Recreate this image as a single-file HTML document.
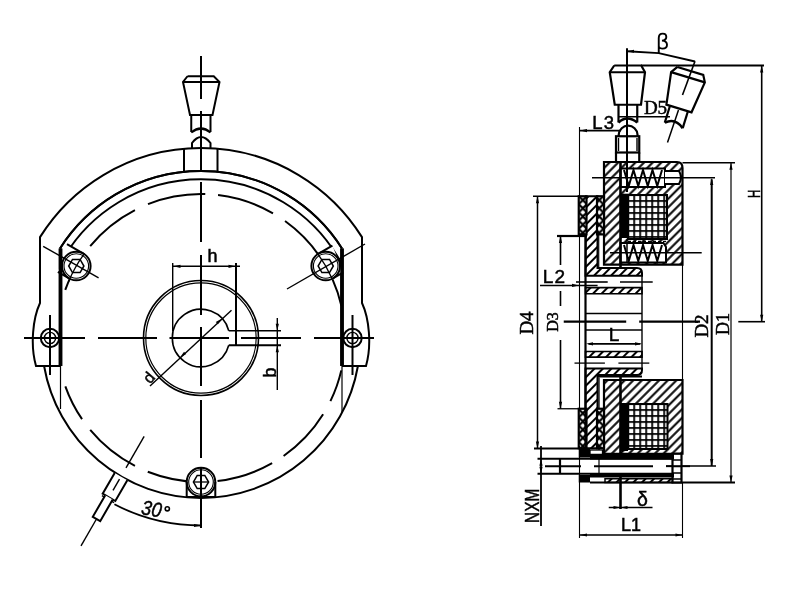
<!DOCTYPE html>
<html><head><meta charset="utf-8"><style>
html,body{margin:0;padding:0;background:#fff;width:800px;height:600px;overflow:hidden}
svg{display:block}
text{font-family:"Liberation Sans",sans-serif}
</style></head><body>
<svg style="will-change:transform" width="800" height="600" viewBox="0 0 800 600" fill="none" stroke="#000" stroke-linecap="butt">
<defs><pattern id="hatch" patternUnits="userSpaceOnUse" width="6.1" height="6.1" patternTransform="rotate(45)"><line x1="3.05" y1="0" x2="3.05" y2="6.1" stroke="#000" stroke-width="2.0"/></pattern><pattern id="hatch2" patternUnits="userSpaceOnUse" width="6.0" height="6.0" patternTransform="rotate(45)"><line x1="3" y1="0" x2="3" y2="6" stroke="#000" stroke-width="2.0"/></pattern><pattern id="grid" patternUnits="userSpaceOnUse" x="627.3" y="194.1" width="6" height="6"><path d="M0.9,0 V6 M0,0.9 H6" stroke="#000" stroke-width="1.8" fill="none"/></pattern><pattern id="grid2" patternUnits="userSpaceOnUse" x="627.3" y="403.1" width="6" height="6"><path d="M0.9,0 V6 M0,0.9 H6" stroke="#000" stroke-width="1.8" fill="none"/></pattern><pattern id="xh" patternUnits="userSpaceOnUse" x="578.75" y="196" width="8.2" height="8.2"><path d="M-1,-1 L9.2,9.2 M9.2,-1 L-1,9.2" stroke="#000" stroke-width="2.2" fill="none"/></pattern></defs>
<path d="M40.00,237.11 A190,190 0 0 1 362.00,237.11" stroke-width="2.0" />
<path d="M60.00,248.51 A167,167 0 0 1 342.00,248.51" stroke-width="2.0" />
<path d="M60.00,264.47 A159.3,159.3 0 0 1 342.00,264.47" stroke-width="2.0" />
<path d="M44.07,366.00 A159.3,159.3 0 0 0 357.93,366.00" stroke-width="2.0" />
<path d="M341.31,305.61 A144,144 0 0 0 332.55,279.43" stroke-width="2.0" />
<path d="M324.43,263.83 A144,144 0 0 0 285.03,221.06" stroke-width="2.0" />
<path d="M273.00,213.29 A144,144 0 0 0 218.05,195.01" stroke-width="2.0" />
<path d="M205.27,194.06 A144,144 0 0 0 147.99,204.11" stroke-width="2.0" />
<path d="M134.95,210.04 A144,144 0 0 0 90.21,246.02" stroke-width="2.0" />
<path d="M78.88,261.69 A144,144 0 0 0 65.26,289.93" stroke-width="2.0" />
<path d="M65.34,386.31 A144,144 0 0 0 82.04,419.15" stroke-width="2.0" />
<path d="M90.21,429.98 A144,144 0 0 0 134.95,465.96" stroke-width="2.0" />
<path d="M147.76,471.80 A144,144 0 0 0 205.27,481.94" stroke-width="2.0" />
<path d="M217.55,481.05 A144,144 0 0 0 272.13,463.21" stroke-width="2.0" />
<path d="M283.60,455.96 A144,144 0 0 0 323.12,414.31" stroke-width="2.0" />
<path d="M330.43,401.13 A144,144 0 0 0 341.31,370.39" stroke-width="2.0" />
<line x1="184.00" y1="148.76" x2="184.00" y2="171.87" stroke-width="2.0" />
<line x1="217.50" y1="148.72" x2="217.50" y2="171.82" stroke-width="2.0" />
<path d="M40,236.6 V303 C33,318 30,345 36,366 H60" stroke-width="2.0"/>
<line x1="60.50" y1="248.50" x2="60.50" y2="366.00" stroke-width="3.5" />
<line x1="60.50" y1="366.00" x2="60.50" y2="409.00" stroke-width="1.2" />
<path d="M362,236.6 V303 C369,318 372,345 366,366 H342" stroke-width="2.0"/>
<line x1="342.00" y1="248.50" x2="342.00" y2="366.00" stroke-width="3.5" />
<line x1="342.00" y1="366.00" x2="342.00" y2="412.00" stroke-width="1.2" />
<circle cx="50.00" cy="338.00" r="9.2" stroke-width="2.0" fill="none"/>
<circle cx="50.00" cy="338.00" r="5.6" stroke-width="1.4" fill="none"/>
<line x1="50.00" y1="315.00" x2="50.00" y2="375.00" stroke-width="2.0" />
<circle cx="352.50" cy="338.00" r="9.2" stroke-width="2.0" fill="none"/>
<circle cx="352.50" cy="338.00" r="5.6" stroke-width="1.4" fill="none"/>
<line x1="352.50" y1="315.00" x2="352.50" y2="375.00" stroke-width="2.0" />
<path d="M343.25,272.38 L332.86,278.38 L318.56,253.62 L332.41,245.62 Z" stroke-width="0" fill="#fff" stroke="none"/>
<circle cx="325.71" cy="266.00" r="14.3" stroke-width="0" fill="#fff"/>
<circle cx="325.71" cy="266.00" r="14.3" stroke-width="2.0" fill="none"/>
<circle cx="325.71" cy="266.00" r="12.3" stroke-width="1.1" fill="none"/>
<path d="M333.31,266.00 L329.51,272.58 L321.91,272.58 L318.11,266.00 L321.91,259.42 L329.51,259.42 Z" stroke-width="1.5" fill="none" />
<line x1="332.86" y1="278.38" x2="343.25" y2="272.38" stroke-width="2.0" />
<line x1="318.56" y1="253.62" x2="332.41" y2="245.62" stroke-width="2.0" />
<path d="M332.55,279.43 A144,144 0 0 0 316.00,251.34" stroke-width="1.3" />
<path d="M66.99,244.12 L83.44,253.62 L69.14,278.38 L57.88,271.88 Z" stroke-width="0" fill="#fff" stroke="none"/>
<circle cx="76.29" cy="266.00" r="14.3" stroke-width="0" fill="#fff"/>
<circle cx="76.29" cy="266.00" r="14.3" stroke-width="2.0" fill="none"/>
<circle cx="76.29" cy="266.00" r="12.3" stroke-width="1.1" fill="none"/>
<path d="M83.89,266.00 L80.09,272.58 L72.49,272.58 L68.69,266.00 L72.49,259.42 L80.09,259.42 Z" stroke-width="1.5" fill="none" />
<line x1="83.44" y1="253.62" x2="66.99" y2="244.12" stroke-width="2.0" />
<line x1="69.14" y1="278.38" x2="57.88" y2="271.88" stroke-width="2.0" />
<path d="M84.50,253.36 A144,144 0 0 0 68.45,281.73" stroke-width="1.3" />
<path d="M186.70,497.00 L186.70,482.00 L215.30,482.00 L215.30,497.00 Z" stroke-width="0" fill="#fff" stroke="none"/>
<circle cx="201.00" cy="482.00" r="14.3" stroke-width="0" fill="#fff"/>
<circle cx="201.00" cy="482.00" r="14.3" stroke-width="2.0" fill="none"/>
<circle cx="201.00" cy="482.00" r="12.3" stroke-width="1.1" fill="none"/>
<path d="M208.60,482.00 L204.80,488.58 L197.20,488.58 L193.40,482.00 L197.20,475.42 L204.80,475.42 Z" stroke-width="1.5" fill="none" />
<line x1="193.40" y1="482.00" x2="208.60" y2="482.00" stroke-width="1.3" />
<line x1="186.70" y1="482.00" x2="186.70" y2="497.00" stroke-width="2.0" />
<line x1="215.30" y1="482.00" x2="215.30" y2="497.00" stroke-width="2.0" />
<line x1="186.70" y1="497.00" x2="215.30" y2="497.00" stroke-width="2.0" />
<path d="M60.00,248.51 A167,167 0 0 1 342.00,248.51" stroke-width="2.0" />
<line x1="60.50" y1="248.50" x2="60.50" y2="366.00" stroke-width="3.5" />
<line x1="342.00" y1="248.50" x2="342.00" y2="366.00" stroke-width="3.5" />
<line x1="287.00" y1="289.00" x2="365.00" y2="244.00" stroke-width="1.4" />
<line x1="98.60" y1="277.80" x2="43.20" y2="246.30" stroke-width="1.4" />
<circle cx="201.00" cy="338.00" r="57.5" stroke-width="1.6" fill="none"/>
<circle cx="201.00" cy="338.00" r="55.2" stroke-width="1.2" fill="none"/>
<path d="M228.77,330.75 A28.7,28.7 0 1 0 228.76,345.3" stroke-width="1.6"/>
<line x1="228.77" y1="330.75" x2="281.00" y2="330.75" stroke-width="1.4" />
<line x1="228.76" y1="345.30" x2="281.00" y2="345.30" stroke-width="2.0" />
<line x1="172.70" y1="263.00" x2="172.70" y2="331.00" stroke-width="1.4" />
<line x1="236.00" y1="263.00" x2="236.00" y2="345.30" stroke-width="2.0" />
<line x1="172.70" y1="266.30" x2="240.00" y2="266.30" stroke-width="1.4" />
<path d="M173.50,266.30 L180.50,264.70 L180.50,267.90 Z" fill="#000" stroke="none"/>
<path d="M235.50,266.30 L228.50,267.90 L228.50,264.70 Z" fill="#000" stroke="none"/>
<text x="212.5" y="262" font-size="18" text-anchor="middle" stroke="#000" stroke-width="0.5" fill="#000" >h</text>
<line x1="277.30" y1="318.00" x2="277.30" y2="390.00" stroke-width="1.4" />
<path d="M277.30,330.75 L275.70,323.75 L278.90,323.75 Z" fill="#000" stroke="none"/>
<path d="M277.30,345.30 L278.90,352.30 L275.70,352.30 Z" fill="#000" stroke="none"/>
<line x1="262.00" y1="376.50" x2="277.30" y2="376.50" stroke-width="0" />
<text x="0" y="0" font-size="18" text-anchor="middle" stroke="#000" stroke-width="0.5" fill="#000" transform="translate(275.5 372.5) rotate(-90)" >b</text>
<line x1="150.00" y1="386.00" x2="231.50" y2="310.20" stroke-width="1.4" />
<path d="M180.01,357.57 L184.04,351.63 L186.22,353.97 Z" fill="#000" stroke="none"/>
<path d="M221.99,318.43 L217.96,324.37 L215.78,322.03 Z" fill="#000" stroke="none"/>
<text x="0" y="0" font-size="16" text-anchor="middle" stroke="#000" stroke-width="0.5" fill="#000" transform="translate(153 381) rotate(-50)" >d</text>
<line x1="24.00" y1="338.00" x2="85.00" y2="338.00" stroke-width="2.0" />
<line x1="98.00" y1="338.00" x2="157.00" y2="338.00" stroke-width="2.0" />
<line x1="169.50" y1="338.00" x2="229.00" y2="338.00" stroke-width="2.0" />
<line x1="241.00" y1="338.00" x2="301.00" y2="338.00" stroke-width="2.0" />
<line x1="314.00" y1="338.00" x2="374.00" y2="338.00" stroke-width="2.0" />
<line x1="201.00" y1="56.00" x2="201.00" y2="99.00" stroke-width="2.0" />
<line x1="201.00" y1="111.00" x2="201.00" y2="170.00" stroke-width="2.0" />
<line x1="201.00" y1="182.00" x2="201.00" y2="242.00" stroke-width="2.0" />
<line x1="201.00" y1="255.00" x2="201.00" y2="315.00" stroke-width="2.0" />
<line x1="201.00" y1="327.00" x2="201.00" y2="386.00" stroke-width="2.0" />
<line x1="201.00" y1="400.00" x2="201.00" y2="458.00" stroke-width="2.0" />
<line x1="201.00" y1="468.00" x2="201.00" y2="528.00" stroke-width="2.0" />
<path d="M187.50,76.25 L213.75,76.25 L219.50,82.00 L212.50,115.00 L190.00,115.00 L183.00,82.00 L187.50,76.25" stroke-width="2.0" fill="none" />
<line x1="183.00" y1="82.00" x2="219.50" y2="82.00" stroke-width="2.0" />
<line x1="191.25" y1="115.00" x2="191.25" y2="132.00" stroke-width="2.0" />
<line x1="210.50" y1="115.00" x2="210.50" y2="132.00" stroke-width="2.0" />
<path d="M191.25,132.5 Q201,124.5 210.5,132.5" stroke-width="2.2"/>
<path d="M192,148 L192,143 Q201,131 210.5,143 L210.5,148" stroke-width="2.0"/>
<path d="M114.42,504.31 A187.5,187.5 0 0 0 201.00,525.50" stroke-width="1.8" />
<path d="M201.00,525.50 L194.00,527.10 L194.00,523.90 Z" fill="#000" stroke="none"/>
<text x="0" y="7.3" font-size="20.5" text-anchor="middle" stroke="#000" stroke-width="0.5" fill="#000" font-style="italic" transform="translate(151.7 508.6) rotate(10) scale(0.88 1)">30</text>
<circle cx="167.30" cy="508.80" r="2.1" stroke-width="1.6" fill="none"/>
<path d="M127.32,480.21 L115.32,501.00 L102.68,493.70 L114.68,472.91" stroke-width="2.0" fill="#fff" />
<line x1="114.06" y1="502.58" x2="101.94" y2="495.58" stroke-width="1.4" />
<path d="M112.72,499.50 L100.22,521.15 L92.78,516.85 L105.28,495.20" stroke-width="2.0" fill="#fff" />
<line x1="144.15" y1="436.47" x2="126.00" y2="467.90" stroke-width="1.4" />
<line x1="119.50" y1="479.16" x2="113.00" y2="490.42" stroke-width="1.4" />
<line x1="96.50" y1="519.00" x2="81.00" y2="545.85" stroke-width="1.4" />
<path d="M604,162 H677 Q682.5,162 682.5,168 V264.6 H604 Z" fill="url(#hatch)" stroke-width="2.2"/>
<rect x="620.5" y="168.5" width="44.50" height="18.50" stroke="none" fill="#fff"/>
<rect x="620.5" y="168.5" width="44.50" height="18.50" stroke-width="2" fill="none"/>
<path d="M665,171 H679 Q683,177.5 679,184 H665" fill="#fff" stroke-width="2"/>
<path d="M620.5,243 H663.5 L666,247 V262.5 H620.5 Z" fill="#fff" stroke-width="2"/>
<line x1="628.00" y1="241.30" x2="667.00" y2="241.30" stroke-width="1.3" stroke-dasharray="3 2"/>
<path d="M624.00,170.00 L628.75,186.00 L633.50,170.00 L638.25,186.00 L643.00,170.00 L647.75,186.00 L652.50,170.00 L657.25,186.00 L662.00,170.00" stroke-width="2" fill="none" />
<path d="M624.00,245.00 L628.75,261.00 L633.50,245.00 L638.25,261.00 L643.00,245.00 L647.75,261.00 L652.50,245.00 L657.25,261.00 L662.00,245.00" stroke-width="2" fill="none" />
<rect x="628" y="195" width="39.00" height="44.00" stroke="none" fill="#fff"/>
<rect x="628" y="195" width="39" height="44" fill="url(#grid)" stroke="#000" stroke-width="2"/>
<rect x="620.5" y="193.7" width="7.50" height="44.30" stroke="none" fill="#000"/>
<line x1="620.50" y1="162.00" x2="620.50" y2="267.00" stroke-width="2.6" />
<line x1="627.00" y1="239.00" x2="627.00" y2="263.00" stroke-width="1.5" />
<path d="M604,380 H682.5 V453.75 H604 Z" fill="url(#hatch)" stroke-width="2.2"/>
<line x1="598.00" y1="376.50" x2="642.00" y2="376.50" stroke-width="2" />
<rect x="628" y="404" width="39.50" height="45.00" stroke="none" fill="#fff"/>
<rect x="628" y="404" width="39.5" height="45" fill="url(#grid2)" stroke="#000" stroke-width="2"/>
<rect x="620.5" y="403" width="7.50" height="48.00" stroke="none" fill="#000"/>
<line x1="620.50" y1="376.50" x2="620.50" y2="459.00" stroke-width="2.6" />
<line x1="620.50" y1="474.00" x2="620.50" y2="509.00" stroke-width="2.6" />
<line x1="599.00" y1="377.50" x2="599.00" y2="453.00" stroke-width="1.3" />
<path d="M586,196.25 H597.5 V268 H637 Q642,268 642,273 V275.8 H585.5 Z" fill="url(#hatch2)" stroke-width="2"/>
<path d="M585.5,448.25 H597.5 V375.1 H637 Q642,375.1 642,370 V368.4 H585.5 Z" fill="url(#hatch2)" stroke-width="2"/>
<rect x="578.75" y="196.25" width="7.75" height="38.15" fill="#fff" stroke="none"/>
<rect x="578.75" y="196.25" width="7.75" height="38.15" fill="url(#xh)" stroke="#000" stroke-width="2.2"/>
<rect x="578.75" y="408.75" width="7.75" height="39.5" fill="#fff" stroke="none"/>
<rect x="578.75" y="408.75" width="7.75" height="39.5" fill="url(#xh)" stroke="#000" stroke-width="2.2"/>
<rect x="597" y="196.25" width="7.00" height="38.15" fill="#fff" stroke="none"/>
<rect x="597" y="196.25" width="7.00" height="38.15" fill="url(#xh)" stroke="#000" stroke-width="2.2"/>
<rect x="597" y="408.75" width="7.00" height="39.5" fill="#fff" stroke="none"/>
<rect x="597" y="408.75" width="7.00" height="39.5" fill="url(#xh)" stroke="#000" stroke-width="2.2"/>
<path d="M585.5,287.6 H642 V293.8 H585.5 Z" fill="url(#hatch2)" stroke-width="1.6"/>
<path d="M585.5,351.5 H642 V357.1 H585.5 Z" fill="url(#hatch2)" stroke-width="1.6"/>
<line x1="642.00" y1="273.00" x2="642.00" y2="370.00" stroke-width="1.4" />
<line x1="585.50" y1="234.00" x2="585.50" y2="448.75" stroke-width="2.2" />
<line x1="579.50" y1="127.00" x2="579.50" y2="196.00" stroke-width="1.1" />
<line x1="579.50" y1="234.00" x2="579.50" y2="409.00" stroke-width="1.1" />
<line x1="579.50" y1="446.00" x2="579.50" y2="538.00" stroke-width="1.1" />
<line x1="598.75" y1="234.00" x2="598.75" y2="268.00" stroke-width="1.1" />
<line x1="585.50" y1="313.50" x2="642.00" y2="313.50" stroke-width="1.3" />
<line x1="585.50" y1="329.90" x2="642.00" y2="329.90" stroke-width="1.5" />
<line x1="576.00" y1="282.00" x2="607.70" y2="282.00" stroke-width="1.6" />
<line x1="620.00" y1="282.00" x2="652.70" y2="282.00" stroke-width="1.6" />
<line x1="574.50" y1="363.10" x2="604.90" y2="363.10" stroke-width="1.3" />
<line x1="618.40" y1="363.10" x2="649.30" y2="363.10" stroke-width="1.3" />
<line x1="563.75" y1="321.70" x2="626.20" y2="321.70" stroke-width="2.2" />
<line x1="639.20" y1="321.70" x2="700.00" y2="321.70" stroke-width="2.2" />
<line x1="588.60" y1="343.85" x2="640.30" y2="343.85" stroke-width="1.6" />
<path d="M586.00,343.85 L593.00,342.25 L593.00,345.45 Z" fill="#000" stroke="none"/>
<path d="M642.00,343.85 L635.00,345.45 L635.00,342.25 Z" fill="#000" stroke="none"/>
<text x="614" y="341" font-size="19" text-anchor="middle" stroke="#000" stroke-width="0.5" fill="#000" >L</text>
<line x1="540.00" y1="285.40" x2="597.60" y2="285.40" stroke-width="1.5" />
<path d="M579.00,285.40 L572.00,287.00 L572.00,283.80 Z" fill="#000" stroke="none"/>
<text x="554.5" y="283.3" font-size="19" text-anchor="middle" stroke="#000" stroke-width="0.5" fill="#000" letter-spacing="1.2">L2</text>
<line x1="682.50" y1="264.60" x2="682.50" y2="380.00" stroke-width="1.1" />
<line x1="682.50" y1="482.50" x2="682.50" y2="538.00" stroke-width="1.1" />
<line x1="537.50" y1="458.75" x2="672.50" y2="458.75" stroke-width="2.2" />
<line x1="537.50" y1="473.75" x2="672.50" y2="473.75" stroke-width="2.2" />
<line x1="545.00" y1="466.25" x2="581.00" y2="466.25" stroke-width="1.8" />
<line x1="594.00" y1="466.25" x2="653.00" y2="466.25" stroke-width="1.8" />
<line x1="666.00" y1="466.25" x2="690.00" y2="466.25" stroke-width="1.8" />
<line x1="560.00" y1="458.75" x2="560.00" y2="473.75" stroke-width="2.2" />
<line x1="599.00" y1="459.00" x2="599.00" y2="473.50" stroke-width="1.2" />
<rect x="578.75" y="448.75" width="11.25" height="8.75" stroke="none" fill="#000"/>
<rect x="578.75" y="475" width="11.25" height="7.50" stroke="none" fill="#000"/>
<rect x="590" y="450" width="12.5" height="5.5" fill="#fff" stroke="#000" stroke-width="1.3"/>
<path d="M605,478.75 H672.5 V482.5 H605 Z" fill="url(#hatch2)" stroke-width="1.5"/>
<line x1="590.00" y1="482.50" x2="735.00" y2="482.50" stroke-width="1.8" />
<rect x="672.5" y="453.75" width="9" height="28.75" fill="#fff" stroke="#000" stroke-width="2.2"/>
<line x1="672.50" y1="460.00" x2="681.50" y2="460.00" stroke-width="1.5" />
<line x1="672.50" y1="466.50" x2="681.50" y2="466.50" stroke-width="1.5" />
<line x1="672.50" y1="473.00" x2="681.50" y2="473.00" stroke-width="1.5" />
<line x1="672.50" y1="479.00" x2="681.50" y2="479.00" stroke-width="1.5" />
<rect x="590" y="453.75" width="84.00" height="5.75" stroke="none" fill="#000"/>
<rect x="590" y="473" width="84.00" height="4.50" stroke="none" fill="#000"/>
<rect x="616" y="136.25" width="23.25" height="16.25" stroke-width="2.2" fill="none"/>
<line x1="618.50" y1="138.00" x2="618.50" y2="151.00" stroke-width="1.4" />
<line x1="637.00" y1="138.00" x2="637.00" y2="151.00" stroke-width="1.4" />
<line x1="616.00" y1="152.50" x2="616.00" y2="162.00" stroke-width="2.2" />
<line x1="639.25" y1="152.50" x2="639.25" y2="162.00" stroke-width="2.2" />
<path d="M618.75,136.25 V134.5 A9.4,9.5 0 0 1 637.5,134.5 V136.25" stroke-width="2.2"/>
<g >
<path d="M614.25,65.50 L641.25,65.50 L645.00,72.25 L641.00,104.75 L614.75,104.75 L609.75,72.25 L614.25,65.50" stroke-width="2.2" fill="none" />
<line x1="609.75" y1="72.25" x2="645.00" y2="72.25" stroke-width="2.2" />
<line x1="618.50" y1="104.75" x2="618.50" y2="122.50" stroke-width="2.2" />
<line x1="637.25" y1="104.75" x2="637.25" y2="122.50" stroke-width="2.2" />
<path d="M618.5,122.5 Q627,114.5 637.25,122.5" stroke-width="2.6"/>
</g>
<g transform="rotate(17 641 277.5)">
<path d="M614.25,65.50 L641.25,65.50 L645.00,72.25 L641.00,104.75 L614.75,104.75 L609.75,72.25 L614.25,65.50" stroke-width="2.2" fill="none" />
<line x1="609.75" y1="72.25" x2="645.00" y2="72.25" stroke-width="2.2" />
<line x1="618.50" y1="104.75" x2="618.50" y2="122.50" stroke-width="2.2" />
<line x1="637.25" y1="104.75" x2="637.25" y2="122.50" stroke-width="2.2" />
<path d="M618.5,122.5 Q627,114.5 637.25,122.5" stroke-width="2.6"/>
</g>
<line x1="627.00" y1="48.25" x2="627.00" y2="192.00" stroke-width="2" />
<line x1="695.00" y1="61.25" x2="682.50" y2="95.00" stroke-width="1.6" />
<line x1="678.50" y1="110.00" x2="667.50" y2="142.50" stroke-width="1.5" />
<line x1="641.00" y1="65.50" x2="764.00" y2="65.50" stroke-width="2" />
<path d="M627.00,51.25 L658.75,53.20 L695.00,61.50" stroke-width="1.8" fill="none" />
<path d="M627.00,51.25 L634.00,49.65 L634.00,52.85 Z" fill="#000" stroke="none"/>
<path d="M658.75,53 V38 Q658.75,33.6 662.8,33.6 Q666.3,33.6 666.3,37 Q666.3,40.3 662,40.6 Q667,40.9 667,44.8 Q667,48.6 662.6,48.6 Q659.6,48.6 658.75,46.5" stroke-width="1.9"/>
<line x1="618.50" y1="116.80" x2="670.00" y2="116.80" stroke-width="1.6" />
<text x="655.5" y="114" font-size="19" text-anchor="middle" stroke="#000" stroke-width="0.5" fill="#000" font-family="Liberation Serif" style="font-family:Liberation Serif">D5</text>
<line x1="579.70" y1="130.60" x2="621.00" y2="130.60" stroke-width="1.6" />
<path d="M580.00,130.60 L587.00,129.00 L587.00,132.20 Z" fill="#000" stroke="none"/>
<text x="603.8" y="128.8" font-size="18.5" text-anchor="middle" stroke="#000" stroke-width="0.5" fill="#000" letter-spacing="1.2">L3</text>
<line x1="533.00" y1="196.25" x2="580.00" y2="196.25" stroke-width="1.3" />
<line x1="537.50" y1="196.25" x2="537.50" y2="448.50" stroke-width="1.5" />
<path d="M537.50,196.25 L539.10,203.25 L535.90,203.25 Z" fill="#000" stroke="none"/>
<path d="M537.50,448.50 L535.90,441.50 L539.10,441.50 Z" fill="#000" stroke="none"/>
<line x1="534.00" y1="448.50" x2="579.00" y2="448.50" stroke-width="1.8" />
<text x="0" y="0" font-size="19" text-anchor="middle" stroke="#000" stroke-width="0.5" fill="#000" transform="translate(533 323) rotate(-90)" font-family="Liberation Serif" style="font-family:Liberation Serif">D4</text>
<line x1="557.00" y1="236.00" x2="587.00" y2="236.00" stroke-width="2.2" />
<line x1="560.50" y1="236.00" x2="560.50" y2="265.00" stroke-width="1.6" />
<line x1="560.50" y1="291.00" x2="560.50" y2="306.00" stroke-width="1.6" />
<line x1="560.50" y1="340.00" x2="560.50" y2="408.75" stroke-width="1.6" />
<path d="M560.50,236.00 L562.10,243.00 L558.90,243.00 Z" fill="#000" stroke="none"/>
<path d="M560.50,408.75 L558.90,401.75 L562.10,401.75 Z" fill="#000" stroke="none"/>
<line x1="557.50" y1="408.75" x2="578.00" y2="408.75" stroke-width="1.3" />
<text x="0" y="0" font-size="16" text-anchor="middle" stroke="#000" stroke-width="0.5" fill="#000" transform="translate(558 322) rotate(-90)" font-family="Liberation Serif" style="font-family:Liberation Serif">D3</text>
<line x1="592.00" y1="177.80" x2="715.00" y2="177.80" stroke-width="1.6" />
<line x1="711.70" y1="179.30" x2="711.70" y2="466.00" stroke-width="2" />
<path d="M711.70,178.00 L713.30,185.00 L710.10,185.00 Z" fill="#000" stroke="none"/>
<path d="M711.70,466.00 L710.10,459.00 L713.30,459.00 Z" fill="#000" stroke="none"/>
<line x1="666.00" y1="466.00" x2="716.00" y2="466.00" stroke-width="1.6" />
<text x="0" y="0" font-size="19" text-anchor="middle" stroke="#000" stroke-width="0.5" fill="#000" transform="translate(708 326) rotate(-90)" font-family="Liberation Serif" style="font-family:Liberation Serif">D2</text>
<line x1="682.50" y1="162.70" x2="735.00" y2="162.70" stroke-width="1.6" />
<line x1="731.00" y1="162.70" x2="731.00" y2="482.50" stroke-width="1.2" />
<path d="M731.00,162.70 L732.60,169.70 L729.40,169.70 Z" fill="#000" stroke="none"/>
<path d="M731.00,482.50 L729.40,475.50 L732.60,475.50 Z" fill="#000" stroke="none"/>
<text x="0" y="0" font-size="18" text-anchor="middle" stroke="#000" stroke-width="0.5" fill="#000" transform="translate(728.5 324) rotate(-90)" font-family="Liberation Serif" style="font-family:Liberation Serif">D1</text>
<line x1="761.70" y1="65.50" x2="761.70" y2="321.70" stroke-width="1.6" />
<path d="M761.70,321.70 L760.10,314.70 L763.30,314.70 Z" fill="#000" stroke="none"/>
<path d="M761.70,65.50 L763.30,72.50 L760.10,72.50 Z" fill="#000" stroke="none"/>
<line x1="738.30" y1="321.70" x2="765.00" y2="321.70" stroke-width="1.6" />
<text x="0" y="0" font-size="16" text-anchor="middle" stroke="#000" stroke-width="0.5" fill="#000" transform="translate(759.5 193.8) rotate(-90) scale(0.72 1)" >H</text>
<line x1="610.00" y1="252.70" x2="701.70" y2="252.70" stroke-width="1.6" />
<line x1="541.00" y1="446.00" x2="541.00" y2="526.00" stroke-width="1.8" />
<path d="M541.00,458.75 L542.60,465.75 L539.40,465.75 Z" fill="#000" stroke="none"/>
<path d="M541.00,473.75 L539.40,466.75 L542.60,466.75 Z" fill="#000" stroke="none"/>
<text x="0" y="0" font-size="20" text-anchor="middle" stroke="#000" stroke-width="0.5" fill="#000" transform="translate(538.5 505.8) rotate(-90) scale(0.77 1)" >NXM</text>
<line x1="608.75" y1="507.50" x2="652.50" y2="507.50" stroke-width="1.5" />
<path d="M620.50,507.50 L613.50,509.10 L613.50,505.90 Z" fill="#000" stroke="none"/>
<path d="M620.50,507.50 L627.50,505.90 L627.50,509.10 Z" fill="#000" stroke="none"/>
<text x="642.5" y="506" font-size="19.5" text-anchor="middle" stroke="#000" stroke-width="0.5" fill="#000" >δ</text>
<line x1="580.00" y1="535.00" x2="682.50" y2="535.00" stroke-width="1.6" />
<path d="M580.00,535.00 L587.00,533.40 L587.00,536.60 Z" fill="#000" stroke="none"/>
<path d="M682.50,535.00 L675.50,536.60 L675.50,533.40 Z" fill="#000" stroke="none"/>
<text x="631" y="531" font-size="18" text-anchor="middle" stroke="#000" stroke-width="0.5" fill="#000" >L1</text>
</svg></body></html>
